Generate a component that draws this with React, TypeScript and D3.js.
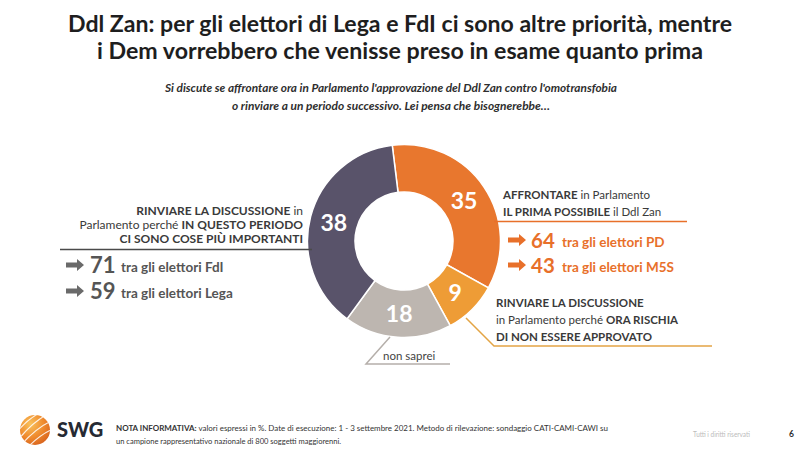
import React from "react";
import * as d3 from "d3";

const sliceLabels = ["Affrontare subito", "Rinviare: rischia", "Non saprei", "Rinviare: altre priorità"];
const sliceValues = [35, 9, 18, 38];
const sliceColors = ["#e8772e", "#ee9c36", "#bdb6b0", "#59536a"];

const titleLines = [
  "Ddl Zan: per gli elettori di Lega e FdI ci sono altre priorità, mentre",
  "i Dem vorrebbero che venisse preso in esame quanto prima",
];
const subtitleLines = [
  "Si discute se affrontare ora in Parlamento l'approvazione del Ddl Zan contro l'omotransfobia",
  "o rinviare a un periodo successivo. Lei pensa che bisognerebbe…",
];

const leftValues = [71, 59];
const leftLabels = ["tra gli elettori FdI", "tra gli elettori Lega"];
const rightValues = [64, 43];
const rightLabels = ["tra gli elettori PD", "tra gli elettori M5S"];

const FONT = "Lato, 'Open Sans', sans-serif";

type Seg = { t: string; b?: boolean };

function Rich({ x, y, segs, anchor = "start", size = 11.5, fill = "#3a3a3a" }: { x: number; y: number; segs: Seg[]; anchor?: string; size?: number; fill?: string }) {
  return (
    <text x={x} y={y} textAnchor={anchor as any} fontSize={size} fill={fill} fontFamily={FONT}>
      {segs.map((s, i) => (
        <tspan key={i} fontWeight={s.b ? 700 : 400}>{s.t}</tspan>
      ))}
    </text>
  );
}

function Arrow({ x, y, color }: { x: number; y: number; color: string }) {
  const p = d3.path();
  p.moveTo(x, y - 2.6);
  p.lineTo(x + 11, y - 2.6);
  p.lineTo(x + 11, y - 6);
  p.lineTo(x + 18, y);
  p.lineTo(x + 11, y + 6);
  p.lineTo(x + 11, y + 2.6);
  p.lineTo(x, y + 2.6);
  p.closePath();
  return <path d={p.toString()} fill={color} />;
}

export default function App() {
  const cx = 404, cy = 241, rOuter = 96.5, rInner = 49;
  const start = (-7 * Math.PI) / 180;
  const pie = d3.pie<number>().sort(null).value((d) => d).startAngle(start).endAngle(start + 2 * Math.PI);
  const arcs = pie(sliceValues);
  const arc = d3.arc<d3.PieArcDatum<number>>().innerRadius(rInner).outerRadius(rOuter);
  const labelArc = d3.arc<d3.PieArcDatum<number>>().innerRadius(72.5).outerRadius(72.5);

  const orange = "#e8702a";
  const gold = "#e3a445";
  const grayLine = "#b5afaa";

  return (
    <svg width={800} height={450} style={{ position: "absolute", left: 0, top: 0, background: "#fff" }}>
      <defs>
        <radialGradient id="logoG" cx="35%" cy="30%" r="75%">
          <stop offset="0%" stopColor="#f9c25c" />
          <stop offset="60%" stopColor="#ef8a2e" />
          <stop offset="100%" stopColor="#d9651f" />
        </radialGradient>
        <clipPath id="logoClip"><circle cx={35} cy={430} r={15} /></clipPath>
      </defs>
      <rect width={800} height={450} fill="#fff" />

      {titleLines.map((t, i) => (
        <text key={i} x={400} y={32 + i * 27} textAnchor="middle" fontSize={23} fontWeight={700} fill="#1e1e1e"
          fontFamily={FONT} textLength={i === 0 ? 664 : 606} lengthAdjust="spacingAndGlyphs">{t}</text>
      ))}
      {subtitleLines.map((t, i) => (
        <text key={i} x={391} y={92 + i * 18} textAnchor="middle" fontSize={11} fontWeight={700} fontStyle="italic"
          fill="#2e2e2e" fontFamily={FONT} textLength={i === 0 ? 452 : 318} lengthAdjust="spacingAndGlyphs">{t}</text>
      ))}

      <g transform={`translate(${cx},${cy})`}>
        {arcs.map((a, i) => (
          <path key={sliceLabels[i]} d={arc(a) || ""} fill={sliceColors[i]} stroke="#fff" strokeWidth={1.5} />
        ))}
        {arcs.map((a, i) => {
          const [lx, ly] = labelArc.centroid(a);
          return (
            <text key={"l" + i} x={lx} y={ly} dy="0.36em" textAnchor="middle" fontSize={23} fontWeight={700}
              fill="#fff" fontFamily={FONT}>{sliceValues[i]}</text>
          );
        })}
      </g>

      <Rich x={303} y={215} anchor="end" size={12} segs={[{ t: "RINVIARE LA DISCUSSIONE", b: true }, { t: " in" }]} />
      <Rich x={303} y={229} anchor="end" size={12} segs={[{ t: "Parlamento perché " }, { t: "IN QUESTO PERIODO", b: true }]} />
      <Rich x={303} y={243} anchor="end" size={12} segs={[{ t: "CI SONO COSE PIÙ IMPORTANTI", b: true }]} />
      <line x1={60} x2={312} y1={249.5} y2={249.5} stroke="#4a4a4a" strokeWidth={1.5} />
      {leftValues.map((v, i) => (
        <g key={"lv" + i}>
          <Arrow x={66} y={265 + i * 26} color="#6a6a6a" />
          <text x={90} y={273 + i * 26} fontSize={22} fontWeight={700} fill="#555" fontFamily={FONT}>{v}</text>
          <text x={121} y={272 + i * 26} fontSize={13.5} fontWeight={700} fill="#555" fontFamily={FONT}>{leftLabels[i]}</text>
        </g>
      ))}

      <Rich x={503} y={199} size={11.5} segs={[{ t: "AFFRONTARE", b: true }, { t: " in Parlamento" }]} />
      <Rich x={503} y={216} size={11.5} segs={[{ t: "IL PRIMA POSSIBILE", b: true }, { t: " il Ddl Zan" }]} />
      <line x1={494} x2={687} y1={221.5} y2={221.5} stroke={orange} strokeWidth={1.5} />
      {rightValues.map((v, i) => (
        <g key={"rv" + i}>
          <Arrow x={508} y={240 + i * 25} color={orange} />
          <text x={531} y={248 + i * 25} fontSize={20.5} fontWeight={700} fill={orange} fontFamily={FONT}>{v}</text>
          <text x={562} y={247 + i * 25} fontSize={13.5} fontWeight={700} fill={orange} fontFamily={FONT}>{rightLabels[i]}</text>
        </g>
      ))}

      <Rich x={496} y={307} size={11.5} segs={[{ t: "RINVIARE LA DISCUSSIONE", b: true }]} />
      <Rich x={496} y={324} size={11.5} segs={[{ t: "in Parlamento perché " }, { t: "ORA RISCHIA", b: true }]} />
      <Rich x={496} y={341} size={11.5} segs={[{ t: "DI NON ESSERE APPROVATO", b: true }]} />
      <polyline points="466,318 494,346 712,346" fill="none" stroke={gold} strokeWidth={1.5} />

      <polyline points="390,337 366,364 450,364" fill="none" stroke={grayLine} strokeWidth={1.5} />
      <text x={383} y={360} fontSize={11.5} fill="#444" fontFamily={FONT}>non saprei</text>

      <circle cx={35} cy={430} r={15} fill="url(#logoG)" />
      <g clipPath="url(#logoClip)" stroke="#fff" strokeWidth={1.2} fill="none" opacity={0.85}>
        <path d="M18,440 Q34,420 52,412" />
        <path d="M20,446 Q38,426 54,420" />
        <path d="M25,450 Q42,432 56,428" />
        <path d="M16,433 Q30,416 46,410" />
      </g>
      <text x={57} y={437} fontSize={20} fontWeight={900} fill="#262a33" fontFamily={FONT}>SWG</text>
      <text x={116} y={431} fontSize={7.5} fill="#333" fontFamily={FONT} textLength={492} lengthAdjust="spacingAndGlyphs">
        <tspan fontWeight={700}>NOTA INFORMATIVA:</tspan> valori espressi in %. Date di esecuzione: 1 - 3 settembre 2021. Metodo di rilevazione: sondaggio CATI-CAMI-CAWI su
      </text>
      <text x={116} y={444} fontSize={7.5} fill="#333" fontFamily={FONT} textLength={225} lengthAdjust="spacingAndGlyphs">un campione rappresentativo nazionale di 800 soggetti maggiorenni.</text>
      <text x={693} y={437} fontSize={7.5} fill="#bbb" fontFamily={FONT} textLength={57} lengthAdjust="spacingAndGlyphs">Tutti i diritti riservati</text>
      <text x={789} y={437} fontSize={8.5} fontWeight={700} fill="#333" fontFamily={FONT}>6</text>
    </svg>
  );
}
